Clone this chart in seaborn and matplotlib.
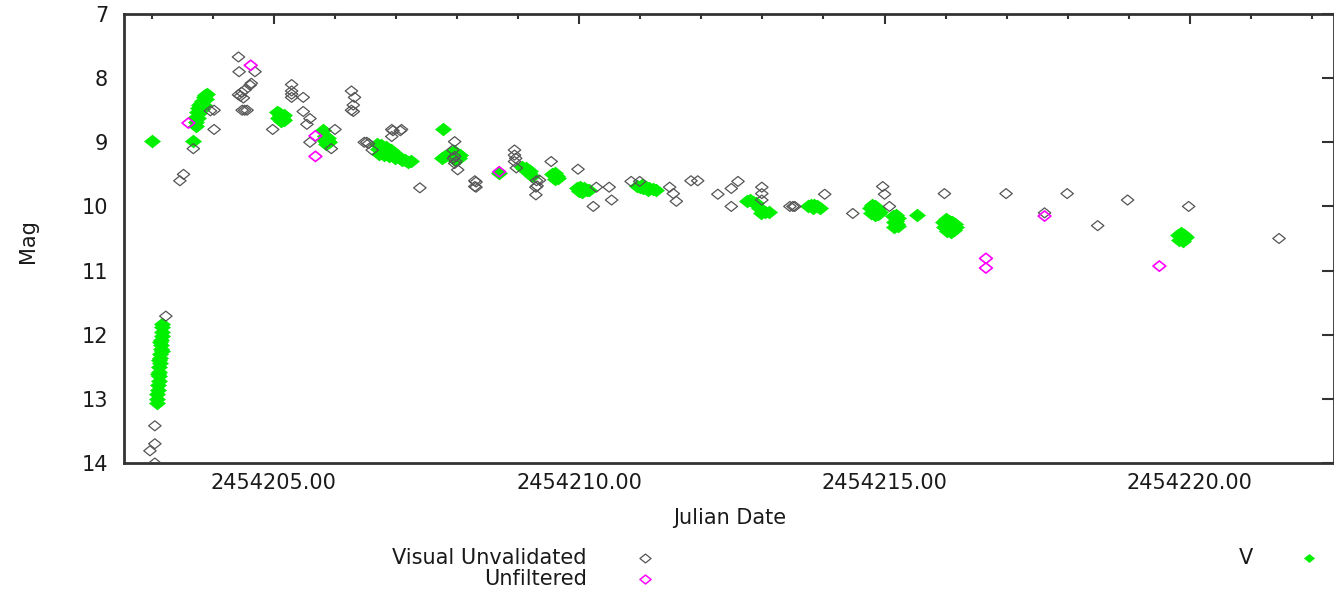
import numpy as np
import pandas as pd
import matplotlib
matplotlib.use("Agg")
import matplotlib.pyplot as plt
from matplotlib.path import Path
from matplotlib.lines import Line2D
from matplotlib.ticker import FixedLocator, MultipleLocator, FuncFormatter
import seaborn as sns

JD0 = 2454200.0

# ---- V band (green filled diamonds): day offset from JD0, magnitude ----
v_day = [3.00,
         3.08, 3.085, 3.09, 3.095, 3.10, 3.11, 3.115, 3.12, 3.125, 3.13, 3.135, 3.14,
         3.145, 3.15, 3.155, 3.16, 3.165, 3.17, 3.165, 3.12, 3.14, 3.10, 3.16,
         3.68,
         3.73, 3.72, 3.73, 3.74, 3.76, 3.78, 3.80, 3.83, 3.85, 3.87, 3.88, 3.86, 3.82, 3.78, 3.75, 3.90,
         5.05, 5.08, 5.10, 5.13, 5.15, 5.17, 5.12, 5.07, 5.16, 5.11,
         5.80, 5.83, 5.85, 5.88, 5.90, 5.86, 5.82, 5.89,
         6.68, 6.70, 6.72, 6.75, 6.78, 6.80, 6.83, 6.86, 6.88, 6.92, 6.95, 6.98, 7.02, 7.06, 7.10, 7.15, 7.20, 7.24,
         7.77,
         7.75, 7.80, 7.90, 7.95, 8.00, 8.03, 7.97, 8.05,
         8.69,
         9.06, 9.10, 9.14, 9.18, 9.22, 9.12, 9.20,
         9.56, 9.60, 9.63, 9.66, 9.60,
         9.97, 10.02, 10.07, 10.12, 10.16, 10.05, 10.00,
         10.95, 11.00, 11.05, 11.10, 11.15, 11.20, 11.25, 11.02, 11.12,
         12.75, 12.80, 12.85, 12.90, 12.95, 13.00, 13.05, 13.10, 12.98,
         13.75, 13.80, 13.85, 13.90, 13.95, 13.82,
         14.76, 14.80, 14.85, 14.90, 14.78, 14.84, 14.90, 14.82, 14.93,
         15.14, 15.18, 15.22, 15.15, 15.20, 15.16, 15.22, 15.18,
         15.53,
         15.96, 16.00, 16.05, 16.10, 16.15, 15.97, 16.02, 16.08, 16.14, 16.06, 16.17,
         19.80, 19.85, 19.90, 19.82, 19.88, 19.93]
v_mag = [8.98,
         13.06, 13.00, 12.93, 12.86, 12.79, 12.72, 12.65, 12.58, 12.51, 12.44, 12.37, 12.30,
         12.23, 12.16, 12.09, 12.02, 11.95, 11.88, 11.84, 12.40, 12.12, 12.62, 12.26,
         8.98,
         8.75, 8.68, 8.60, 8.53, 8.47, 8.42, 8.38, 8.35, 8.30, 8.27, 8.33, 8.42, 8.48, 8.55, 8.62, 8.25,
         8.53, 8.55, 8.58, 8.60, 8.63, 8.66, 8.67, 8.62, 8.57, 8.64,
         8.81, 8.90, 8.95, 8.98, 9.00, 9.02, 8.97, 8.93,
         9.02, 9.10, 9.18, 9.05, 9.12, 9.20, 9.08, 9.15, 9.22, 9.12, 9.18, 9.24, 9.20, 9.25, 9.27, 9.28, 9.30, 9.29,
         8.80,
         9.24, 9.22, 9.17, 9.13, 9.18, 9.24, 9.27, 9.20,
         9.48,
         9.38, 9.42, 9.45, 9.48, 9.52, 9.40, 9.45,
         9.50, 9.48, 9.53, 9.56, 9.58,
         9.72, 9.70, 9.72, 9.74, 9.75, 9.77, 9.76,
         9.68, 9.70, 9.72, 9.70, 9.72, 9.73, 9.74, 9.66, 9.75,
         9.92, 9.90, 9.93, 9.95, 10.02, 10.06, 10.08, 10.08, 10.10,
         10.00, 9.98, 9.97, 9.99, 10.02, 10.03,
         10.02, 9.98, 10.00, 10.04, 10.10, 10.14, 10.12, 10.06, 10.08,
         10.15, 10.14, 10.18, 10.24, 10.28, 10.32, 10.30, 10.22,
         10.13,
         10.24, 10.20, 10.22, 10.24, 10.28, 10.32, 10.38, 10.40, 10.36, 10.30, 10.32,
         10.44, 10.42, 10.45, 10.52, 10.54, 10.48]

# ---- Visual Unvalidated (grey open diamonds) ----
vis_day = [3.05, 3.05, 2.97, 3.05, 3.23,
           3.46, 3.52, 3.68, 4.02, 3.96, 4.02,
           4.42, 4.43, 4.69, 4.61, 4.63, 4.53, 4.42, 4.45, 4.50, 4.47, 4.48, 4.52, 4.56,
           4.98, 5.29, 5.29, 5.29, 5.29, 5.48, 5.48, 5.59, 5.54, 5.59, 6.00, 5.94,
           6.27, 6.32, 6.30, 6.27, 6.30,
           6.48, 6.52, 6.55, 6.61,
           6.93, 6.95, 7.09, 7.07, 6.93,
           7.39,
           7.96, 7.93, 7.96, 7.94, 7.96, 8.01, 7.98,
           8.29, 8.31, 8.29, 8.31,
           8.94, 8.94, 8.96, 8.94, 8.97,
           9.30, 9.29, 9.31, 9.29, 9.35,
           9.54, 9.98, 10.28, 10.49, 10.23, 10.53,
           10.85, 10.99, 11.48, 11.54, 11.59, 11.83, 11.94,
           12.27, 12.49, 12.60, 12.49, 12.99, 12.99, 12.99,
           13.45, 13.50, 13.53, 14.02, 14.48,
           14.97, 15.00, 15.08, 15.98, 16.99, 17.99, 17.62,
           18.49, 18.98, 19.98, 21.46]
vis_mag = [13.42, 13.70, 13.81, 14.00, 11.71,
           9.60, 9.50, 9.10, 8.80, 8.51, 8.50,
           7.67, 7.90, 7.90, 8.11, 8.08, 8.18, 8.26, 8.28, 8.31, 8.22, 8.50, 8.50, 8.50,
           8.80, 8.10, 8.20, 8.25, 8.30, 8.30, 8.52, 8.63, 8.72, 9.00, 8.80, 9.10,
           8.20, 8.30, 8.42, 8.50, 8.52,
           9.00, 9.00, 9.02, 9.12,
           8.80, 8.82, 8.80, 8.82, 8.91,
           9.71,
           8.99, 9.12, 9.22, 9.25, 9.33, 9.43, 9.30,
           9.60, 9.62, 9.69, 9.70,
           9.12, 9.20, 9.25, 9.30, 9.40,
           9.60, 9.70, 9.68, 9.82, 9.59,
           9.30, 9.42, 9.70, 9.70, 10.00, 9.90,
           9.61, 9.61, 9.70, 9.80, 9.92, 9.60, 9.60,
           9.81, 9.72, 9.61, 10.00, 9.70, 9.80, 9.90,
           10.00, 10.00, 10.00, 9.81, 10.11,
           9.69, 9.81, 10.00, 9.80, 9.80, 9.80, 10.10,
           10.30, 9.90, 10.00, 10.50]

# ---- Unfiltered (magenta open diamonds) ----
unf_day = [3.60, 4.62, 5.68, 5.68, 8.69, 16.66, 16.66, 17.62, 19.50]
unf_mag = [8.70, 7.80, 8.90, 9.22, 9.46, 10.81, 10.96, 10.15, 10.93]

x_ticks = [2454205.0, 2454210.0, 2454215.0, 2454220.0]
y_ticks = [7, 8, 9, 10, 11, 12, 13, 14]
series_labels = ["Visual Unvalidated", "Unfiltered", "V"]

# ---------------------------------------------------------------
sns.set_theme(style="white")
plt.rcParams["font.family"] = ["DejaVu Sans"]

W, H = 1334, 591
fig = plt.figure(figsize=(W / 100, H / 100), dpi=100)
ax = fig.add_axes([124 / W, (H - 463) / H, 1210 / W, 449 / H])

diamond = Path([(-1, 0), (0, 0.8), (1, 0), (0, -0.8), (-1, 0)],
               [Path.MOVETO, Path.LINETO, Path.LINETO, Path.LINETO, Path.CLOSEPOLY])

df_v = pd.DataFrame({"jd": JD0 + np.array(v_day), "mag": v_mag})
df_vis = pd.DataFrame({"jd": JD0 + np.array(vis_day), "mag": vis_mag})
df_unf = pd.DataFrame({"jd": JD0 + np.array(unf_day), "mag": unf_mag})

GREEN = "#00f000"
GREY = "#555555"
MAGENTA = "#ff00ff"

sns.scatterplot(data=df_v, x="jd", y="mag", ax=ax, marker=diamond, s=150,
                color=GREEN, edgecolor=GREEN, linewidth=0, zorder=2, legend=False)
sns.scatterplot(data=df_vis, x="jd", y="mag", ax=ax, marker=diamond, s=80,
                facecolor="none", edgecolor=GREY, linewidth=0.9, zorder=3, legend=False)
sns.scatterplot(data=df_unf, x="jd", y="mag", ax=ax, marker=diamond, s=85,
                facecolor="none", edgecolor=MAGENTA, linewidth=1.2, zorder=4, legend=False)

ax.set_xlim(JD0 + 2.545, JD0 + 22.36)
ax.set_ylim(14, 7)

ax.xaxis.set_major_locator(FixedLocator(x_ticks))
ax.xaxis.set_minor_locator(MultipleLocator(1))
ax.xaxis.set_major_formatter(FuncFormatter(lambda v, p: f"{v:.2f}"))
ax.yaxis.set_major_locator(FixedLocator(y_ticks))

ax.tick_params(axis="both", which="both", direction="in", top=True, right=True,
               color="#333333", width=1.5, labelcolor="#1a1a1a", labelsize=15)
ax.tick_params(axis="x", which="major", length=7, pad=7)
ax.tick_params(axis="x", which="minor", length=3.5)
ax.tick_params(axis="y", which="major", length=9, pad=11.5)

for sp in ax.spines.values():
    sp.set_color("#333333")
    sp.set_linewidth(2)
    sp.set_visible(True)

ax.set_xlabel("Julian Date", fontsize=15, color="#1a1a1a", va="center")
ax.xaxis.set_label_coords((730 - 124) / 1210, -(518 - 463) / 449)
ax.set_ylabel("Mag", fontsize=15, color="#1a1a1a", va="center")
ax.yaxis.set_label_coords((28 - 124) / 1210, (463 - 241) / 449)

# ---- legend drawn below the axes ----
def fx(px):
    return px / W

def fy(py):
    return 1 - py / H

legend_rows = [(series_labels[0], 587, 558, 645, dict(mfc="none", mec=GREY, mew=0.9)),
               (series_labels[1], 587, 579, 645, dict(mfc="none", mec=MAGENTA, mew=1.1)),
               (series_labels[2], 1253, 558, 1309, dict(mfc=GREEN, mec=GREEN, mew=0))]
for label, tx, ty, mx, style in legend_rows:
    fig.text(fx(tx), fy(ty), label, ha="right", va="center", fontsize=15, color="#1a1a1a")
    fig.add_artist(Line2D([fx(mx)], [fy(ty)], marker=diamond, markersize=8,
                          linestyle="none", transform=fig.transFigure, **style))

fig.savefig("out.png", dpi=100, facecolor="white")
